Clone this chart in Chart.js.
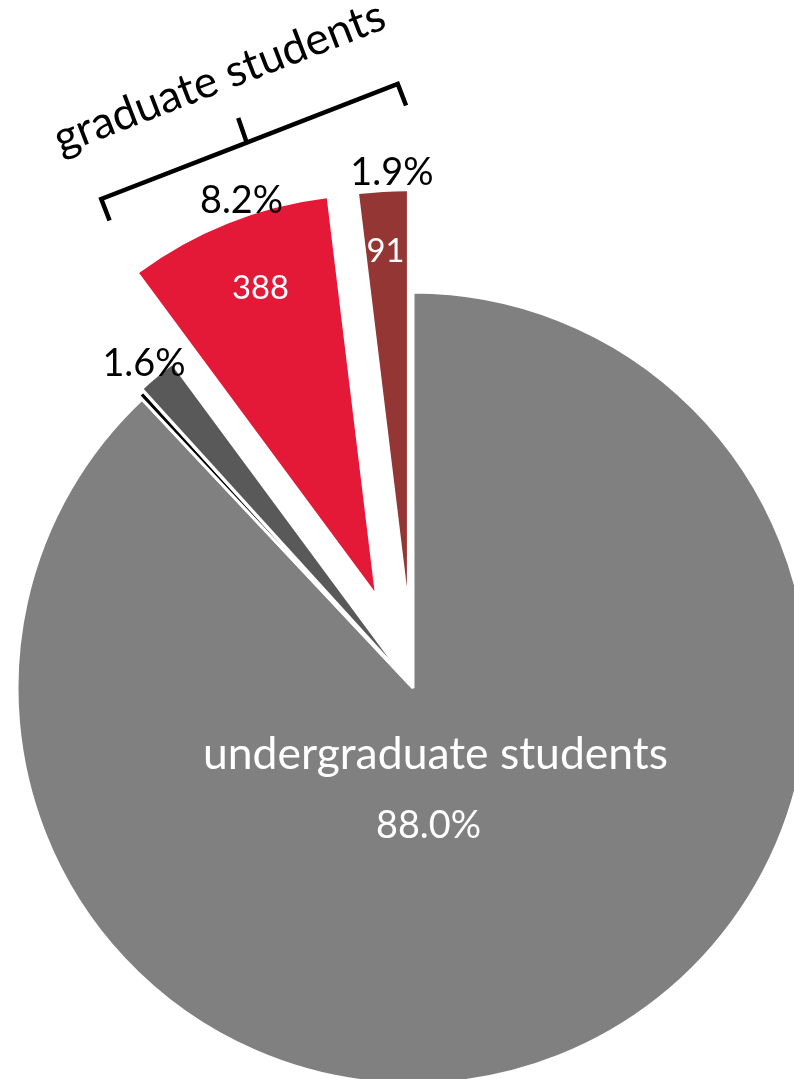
<!DOCTYPE html>
<html>
<head>
<meta charset="utf-8">
<script src="https://cdn.jsdelivr.net/npm/chart.js@4.4.1/dist/chart.umd.min.js"></script>
<style>
  html, body { margin: 0; padding: 0; background: #ffffff; }
  canvas { display: block; }
</style>
</head>
<body>
<canvas id="c" width="794" height="1079"></canvas>
<script>
// ---- data ----
const categories = ['undergraduate students', 'other (a)', 'other (b)', 'graduate students (a)', 'graduate students (b)'];
const counts = [4160, 12, 76, 388, 91];
const groupLabel = 'graduate students';
const groupMembers = [3, 4];

const total = counts.reduce((a, b) => a + b, 0);
const pct = v => (v / total * 100).toFixed(1) + '%';

const FONT = 'Lato, "Open Sans", "DejaVu Sans", sans-serif';

function fitSize(ctx, text, target) {
  ctx.font = '400 100px ' + FONT;
  return 100 * target / ctx.measureText(text).width;
}

// explode slices: move each arc along its bisector by dataset.explode[i]
const explodePlugin = {
  id: 'explode',
  afterDatasetUpdate(chart, args) {
    const ds = chart.data.datasets[args.index];
    const meta = chart.getDatasetMeta(args.index);
    meta.data.forEach((arc, i) => {
      const d = (ds.explode || [])[i] || 0;
      const mid = (arc.startAngle + arc.endAngle) / 2;
      arc.x += Math.cos(mid) * d;
      arc.y += Math.sin(mid) * d;
    });
  }
};

const labelPlugin = {
  id: 'sliceLabels',
  afterDatasetsDraw(chart) {
    const ctx = chart.ctx;
    const arcs = chart.getDatasetMeta(0).data;
    const sCat = fitSize(ctx, categories[0], 465);
    const sPct = fitSize(ctx, pct(counts[0]), 105);
    const sCnt = fitSize(ctx, String(counts[3]), 57);
    const specs = [
      { i: 0, text: categories[0], dx: 22.5, dy: 81, color: '#ffffff', size: sCat },
      { i: 0, text: pct(counts[0]), dx: 15.5, dy: 150, color: '#ffffff', size: sPct },
      { i: 2, text: pct(counts[2]), dx: -264, dy: -306, color: '#000000', size: sPct },
      { i: 3, text: pct(counts[3]), dx: -133, dy: -378.5, color: '#000000', size: sPct },
      { i: 3, text: String(counts[3]), dx: -114, dy: -292.5, color: '#ffffff', size: sCnt },
      { i: 4, text: pct(counts[4]), dx: -15, dy: -402, color: '#000000', size: sPct },
      { i: 4, text: String(counts[4]), dx: -21.5, dy: -325, color: '#ffffff', size: sCnt }
    ];
    ctx.save();
    ctx.textAlign = 'center';
    ctx.textBaseline = 'alphabetic';
    specs.forEach(s => {
      const a = arcs[s.i];
      ctx.font = '400 ' + s.size.toFixed(2) + 'px ' + FONT;
      ctx.fillStyle = s.color;
      ctx.fillText(s.text, a.x + s.dx, a.y + s.dy);
    });

    // bracket over the graduate slices
    const ca = chart.chartArea;
    const cx = (ca.left + ca.right) / 2, cy = (ca.top + ca.bottom) / 2;
    ctx.translate(cx - 163.5, cy - 546.5);
    ctx.rotate(-21.2 * Math.PI / 180);
    ctx.strokeStyle = '#000000';
    ctx.lineWidth = 4.5;
    ctx.lineJoin = 'miter';
    ctx.lineCap = 'butt';
    ctx.beginPath();
    ctx.moveTo(-159, 23);
    ctx.lineTo(-159, 0);
    ctx.lineTo(-3, 0);
    ctx.lineTo(-2, -26);
    ctx.moveTo(-3, 0);
    ctx.lineTo(159, 0);
    ctx.lineTo(159, 23);
    ctx.stroke();
    ctx.font = '400 ' + sCat.toFixed(2) + 'px ' + FONT;
    ctx.fillStyle = '#000000';
    ctx.fillText(groupLabel, -5, -56);
    ctx.restore();
  }
};

new Chart(document.getElementById('c'), {
  type: 'pie',
  data: {
    labels: categories,
    datasets: [{
      data: counts,
      backgroundColor: ['#808080', '#000000', '#595959', '#E31937', '#943634'],
      borderColor: '#ffffff',
      borderWidth: [3, 3, 3, 0, 0],
      explode: [0, 5, 8, 104, 101]
    }]
  },
  options: {
    responsive: false,
    devicePixelRatio: 1,
    animation: false,
    radius: 396,
    layout: { padding: { left: 32, right: 0, top: 297, bottom: 0 } },
    plugins: {
      legend: { display: false },
      tooltip: { enabled: false }
    }
  },
  plugins: [explodePlugin, labelPlugin]
});
</script>
</body>
</html>
